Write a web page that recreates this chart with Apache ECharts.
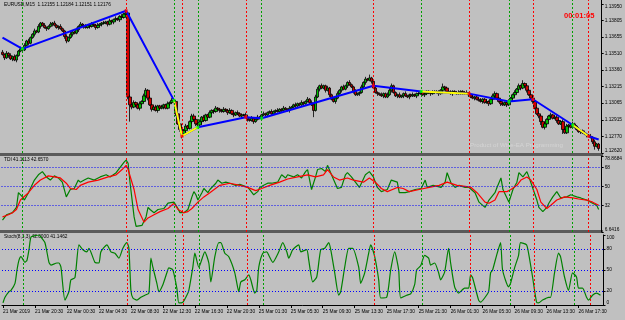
<!DOCTYPE html>
<html>
<head>
<meta charset="utf-8">
<script src="https://cdn.jsdelivr.net/npm/echarts@6/dist/echarts.min.js"></script>
<style>
  html, body { margin: 0; padding: 0; background: #c0c0c0; }
  #chart { width: 625px; height: 320px; }
</style>
</head>
<body>
<div id="chart"></div>
<script>
// EURUSD M15, one candle per slot. Prices are kept as pips above BASE.
const BASE = 1.125;
const firstOpen = 102;

const closePips = [
  100, 97, 101, 99, 96, 98, 95, 99, 103, 105, 104, 108, 112, 110, 115, 118, 121, 120, 125, 128,
  126, 124, 123, 125, 127, 128, 126, 124, 125, 123, 121, 116, 112, 115, 118, 120, 119, 122, 125, 127,
  126, 125, 124, 126, 125, 127, 126, 124, 126, 127, 128, 128, 129, 127, 130, 129, 131, 132, 131, 134,
  133, 136, 137, 62, 55, 53, 57, 55, 52, 56, 58, 63, 68, 61, 55, 51, 53, 50, 54, 52,
  53, 55, 52, 56, 57, 59, 58, 47, 38, 33, 29, 32, 36, 34, 40, 45, 42, 38, 37, 40,
  44, 41, 46, 44, 48, 50, 49, 52, 51, 50, 49, 51, 50, 48, 50, 47, 46, 48, 47, 45,
  46, 46, 44, 42, 41, 43, 40, 42, 44, 43, 46, 47, 46, 48, 49, 47, 49, 50, 49, 51,
  50, 52, 51, 50, 52, 53, 55, 54, 56, 55, 57, 56, 58, 60, 57, 55, 50, 62, 69, 72,
  70, 72, 68, 70, 64, 60, 58, 61, 65, 68, 71, 69, 72, 75, 73, 71, 67, 64, 65, 66,
  71, 75, 78, 77, 79, 76, 70, 66, 65, 64, 63, 65, 62, 64, 68, 72, 66, 63, 64, 62,
  63, 65, 63, 62, 64, 63, 64, 63, 65, 65, 66, 64, 65, 67, 66, 65, 66, 67, 66, 65,
  68, 71, 70, 67, 66, 65, 67, 66, 65, 66, 67, 65, 66, 65, 64, 62, 61, 62, 60, 59,
  58, 60, 57, 58, 56, 60, 63, 65, 61, 58, 56, 55, 57, 55, 58, 61, 64, 66, 69, 72,
  70, 74, 72, 68, 64, 61, 58, 52, 47, 45, 40, 35, 38, 42, 45, 46, 43, 44, 41, 38,
  40, 33, 30, 36, 37, 35, 38, 36, 33, 31, 32, 30, 29, 28, 27, 26, 22, 18, 20, 16
];

// pips above the body top / below the body bottom
const hiWick = [
  2,1,2,1,2,1,2,1,1,2,1,2,1,2,1,1,2,1,2,1,
  1,2,1,1,2,1,2,1,1,2,1,1,2,1,2,1,1,2,1,2,
  1,1,2,1,1,2,1,1,2,1,1,2,1,1,2,1,1,2,1,1,
  2,1,3,1,2,1,2,1,1,2,1,2,2,1,2,1,1,2,1,1,
  2,1,1,2,1,2,1,1,2,1,2,1,2,1,1,2,2,1,1,2,
  1,2,1,1,2,1,1,2,1,1,1,2,1,1,2,1,1,1,2,1,
  1,1,2,1,1,2,1,1,2,1,1,2,1,1,1,2,1,1,2,1,
  1,2,1,1,2,1,1,2,1,1,2,1,1,2,1,2,1,2,2,1,
  2,1,1,2,1,1,2,1,2,1,1,2,1,1,2,1,1,2,1,1,
  2,1,2,1,3,1,1,2,1,1,2,1,1,2,2,2,1,1,1,2,
  1,1,2,1,1,1,2,1,1,2,1,1,2,1,1,1,2,1,1,2,
  1,3,1,1,1,2,1,1,1,2,1,1,1,2,1,1,2,1,1,1,
  2,1,1,2,1,1,2,2,1,1,2,1,1,1,2,1,1,2,1,2,
  1,3,1,2,1,1,2,1,1,2,1,1,2,1,1,2,1,1,2,1,
  1,2,1,2,1,1,2,1,1,2,1,1,2,1,1,2,1,2,1,1
];
const loWick = [
  1,2,1,2,1,2,1,2,1,1,2,1,1,2,1,1,2,1,1,2,
  1,1,2,1,1,2,1,1,2,1,1,2,2,1,1,2,1,1,2,1,
  1,2,1,1,2,1,1,2,1,1,2,1,1,2,1,1,2,1,1,2,
  1,1,1,2,15,2,1,2,1,2,1,1,1,2,1,2,1,1,2,1,
  1,2,1,1,2,1,1,2,1,2,4,1,2,1,1,2,1,2,1,1,
  2,1,1,2,1,1,2,1,1,2,1,1,1,2,1,1,2,1,1,1,
  2,1,1,2,1,1,2,1,1,1,2,1,1,2,1,1,1,2,1,1,
  2,1,1,1,2,1,1,2,1,1,1,2,1,1,2,1,6,1,1,2,
  1,1,2,1,2,1,1,2,1,1,2,1,1,2,1,1,2,1,1,2,
  1,1,2,1,1,2,1,1,2,1,1,2,1,1,1,2,1,1,2,1,
  1,2,1,1,2,1,1,1,2,1,1,1,2,1,1,2,1,1,1,2,
  1,1,2,1,1,1,2,1,1,1,2,1,1,1,2,1,1,2,1,1,
  1,2,1,1,2,1,1,2,1,1,2,1,1,2,1,1,1,2,1,1,
  2,1,1,2,1,1,2,1,1,2,3,1,2,1,1,2,1,1,2,1,
  1,4,1,1,2,1,1,2,1,1,2,1,1,2,1,1,2,3,1,2
];

const timeLabels = ['21 Mar 2019', '21 Mar 20:30', '22 Mar 00:30', '22 Mar 04:30', '22 Mar 08:30',
  '22 Mar 12:30', '22 Mar 16:30', '22 Mar 20:30', '25 Mar 01:30', '25 Mar 05:30', '25 Mar 09:30',
  '25 Mar 13:30', '25 Mar 17:30', '25 Mar 21:30', '26 Mar 01:30', '26 Mar 05:30', '26 Mar 09:30',
  '26 Mar 13:30', '26 Mar 17:30'];
const priceTicks = [1.12620, 1.12770, 1.12915, 1.13065, 1.13215, 1.13360, 1.13510, 1.13655, 1.13805, 1.13950];
const tdiTicks = [6.6416, 32, 50, 68, 78.8684];
const tdiLevels = [68, 50, 32];
const stochTicks = [0, 20, 50, 80, 100];
const stochLevels = [80, 50, 20];

// zigzag vertices [bar, pips]
const zigzag = [[0, 115], [10, 105], [62, 139], [86, 59], [90, 27], [98, 35], [122, 44], [130, 43],
  [186, 72], [210, 67], [234, 65], [254, 58], [266, 60], [286, 37], [294, 27], [299, 24]];
const yellowLegs = [[86, 98], [210, 234], [286, 294]];
const greenMarks = [10, 86, 98, 130, 210, 254, 286];
const redMarks = [62, 90, 122, 186, 234, 266, 294];

// TDI vertices [bar, value]
const tdiPrice = [[0,18],[2,23],[5,25],[7,30],[8,44],[10,40],[11,37],[13,44],[16,56],[18,61],[20,64],[22,59],
  [23,59],[24,56],[26,60],[28,58],[30,54],[32,40],[33,39],[34,47],[36,48],[38,56],[39,54],[41,56],[43,58],
  [46,56],[49,59],[52,61],[54,59],[57,63],[59,68],[61,73],[62,75],[63,72],[64,53],[66,21],[67,12],[68,11],
  [70,13],[72,21],[73,30],[74,28],[76,25],[78,28],[81,29],[83,34],[86,35],[88,29],[89,25],[91,25],[93,28],
  [94,34],[95,40],[96,45],[97,42],[98,37],[100,44],[101,48],[103,44],[104,47],[105,47],[107,53],[108,56],
  [110,53],[112,54],[114,53],[117,51],[119,52],[123,49],[124,47],[126,42],[128,45],[129,49],[131,51],
  [133,53],[135,53],[138,54],[140,61],[142,58],[143,61],[146,59],[148,61],[150,58],[152,64],[153,66],
  [155,47],[157,59],[158,66],[160,67],[162,64],[163,70],[165,61],[168,48],[170,49],[172,61],[173,63],
  [175,59],[177,54],[179,49],[182,61],[184,64],[186,59],[188,49],[190,45],[193,47],[195,56],[198,54],
  [199,44],[202,44],[204,45],[207,47],[210,48],[212,56],[213,49],[216,51],[220,49],[222,54],[223,63],
  [225,53],[227,49],[229,51],[232,49],[234,49],[237,44],[239,35],[242,30],[244,37],[247,44],[248,49],
  [250,58],[251,47],[253,39],[254,35],[256,47],[258,54],[259,63],[261,59],[263,64],[264,59],[266,48],
  [268,37],[269,30],[271,26],[273,30],[274,34],[276,40],[278,45],[280,39],[283,40],[285,42],[288,40],
  [290,39],[293,37],[295,35],[298,32],[299,28]];
const tdiSignal = [[0,21],[3,23],[5,25],[7,28],[9,37],[13,44],[16,51],[19,56],[23,60],[26,59],[29,58],
  [32,53],[34,48],[37,47],[39,51],[43,54],[48,56],[53,59],[57,61],[60,66],[62,70],[63,66],[66,47],[68,28],
  [71,16],[73,20],[76,23],[79,26],[83,29],[86,34],[88,28],[91,25],[93,26],[95,29],[98,35],[101,40],
  [104,44],[109,51],[114,53],[119,51],[123,49],[127,46],[130,48],[134,51],[139,54],[143,57],[148,59],
  [153,61],[157,59],[161,61],[163,66],[166,59],[169,56],[173,58],[176,56],[181,54],[184,58],[187,54],
  [190,48],[193,45],[198,49],[201,48],[204,45],[209,47],[214,49],[219,51],[223,54],[228,51],[232,50],
  [235,49],[238,44],[242,35],[244,34],[247,37],[249,45],[253,45],[255,47],[258,51],[260,56],[263,59],
  [265,56],[268,47],[270,35],[273,29],[275,32],[278,37],[282,40],[286,39],[289,38],[293,37],[296,35],
  [299,32]];

// Stochastic main line [bar, value]
const stochMain = [[0,3],[1,11],[3,19],[4,21],[6,31],[7,50],[8,64],[9,69],[11,61],[12,64],[13,79],[14,97],
  [16,99],[18,100],[19,97],[21,89],[23,61],[24,57],[27,60],[28,60],[29,54],[31,7],[33,19],[34,36],[36,39],
  [38,86],[40,79],[42,76],[43,81],[46,61],[48,60],[49,76],[52,86],[54,76],[56,74],[58,67],[60,81],[62,89],
  [63,81],[64,21],[65,10],[67,7],[69,11],[71,14],[73,17],[74,67],[75,54],[77,31],[78,19],[80,29],[82,46],
  [83,53],[85,50],[87,24],[88,3],[90,4],[92,14],[93,21],[95,54],[96,74],[98,54],[101,76],[103,60],[104,33],
  [106,69],[108,89],[109,89],[111,74],[113,69],[116,46],[118,19],[119,33],[121,36],[123,43],[124,36],
  [126,17],[127,21],[128,54],[130,74],[132,76],[133,71],[135,61],[138,76],[140,89],[142,76],[143,67],
  [145,79],[148,86],[149,76],[152,79],[153,64],[155,33],[157,40],[159,79],[161,81],[163,89],[164,79],
  [166,46],[168,14],[169,19],[171,54],[173,81],[175,81],[178,54],[179,31],[181,46],[183,74],[184,86],
  [186,69],[188,36],[189,10],[192,11],[194,50],[196,76],[198,50],[199,10],[202,14],[204,16],[206,29],
  [207,50],[209,56],[211,71],[213,67],[214,57],[216,60],[218,46],[219,36],[221,47],[223,81],[224,60],
  [226,26],[228,17],[231,24],[233,24],[234,43],[235,39],[238,7],[239,4],[241,10],[243,19],[244,46],
  [245,50],[247,71],[249,89],[250,50],[253,26],[254,31],[256,53],[258,71],[259,89],[262,86],[263,74],
  [265,40],[267,4],[268,3],[270,7],[273,11],[274,11],[276,46],[278,74],[279,69],[281,40],[283,21],
  [285,46],[287,40],[288,24],[290,24],[292,11],[293,7],[295,14],[297,17],[299,14]];

const toPrice = p => +(BASE + p / 10000).toFixed(5);
const slots = Array.from({ length: closePips.length + 1 }, (_, i) => i);
const candles = closePips.map((c, i) => {
  const o = i === 0 ? firstOpen : closePips[i - 1];
  return [o, c, Math.min(o, c) - loWick[i], Math.max(o, c) + hiWick[i]].map(toPrice);
});
const zigData = zigzag.map(([i, p]) => [i, toPrice(p)]);

const FONT = 'Liberation Sans';
const GREEN_V = '#00a000';
const RED_V = '#ff0000';

function verticals() {
  return {
    silent: true, symbol: 'none', label: { show: false },
    lineStyle: { type: [2, 2], width: 1 },
    data: greenMarks.map(i => ({ xAxis: i, lineStyle: { color: GREEN_V } }))
      .concat(redMarks.map(i => ({ xAxis: i, lineStyle: { color: RED_V } })))
  };
}
function levels(vals) {
  return {
    silent: true, symbol: 'none', label: { show: false },
    lineStyle: { type: [1, 2], width: 1, color: '#0000ff' },
    data: vals.map(v => ({ yAxis: v }))
  };
}

const grids = [
  { left: 1.5, right: 21.5, top: 0, height: 153 },
  { left: 1.5, right: 21.5, top: 156, height: 76 },
  { left: 1.5, right: 21.5, top: 235, height: 70 }
];

const xAxes = [0, 1, 2].map(g => ({
  type: 'category', gridIndex: g, data: slots, boundaryGap: true,
  axisLine: { show: g === 2, lineStyle: { color: '#000' } },
  axisTick: { show: g === 2, interval: 15, alignWithLabel: true, length: 3, lineStyle: { color: '#000' } },
  axisLabel: {
    show: g === 2, interval: 15, align: 'left', margin: 4,
    fontFamily: FONT, fontSize: 4.8, color: '#000',
    formatter: (v, idx) => timeLabels[idx / 16] || ''
  },
  splitLine: { show: false }
}));

function yAxis(g, min, max, ticks, fmt) {
  return {
    type: 'value', gridIndex: g, position: 'right', min: min, max: max, scale: true,
    axisLine: { show: true, lineStyle: { color: '#000' } },
    axisTick: { show: true, length: 2, customValues: ticks, lineStyle: { color: '#000' } },
    axisLabel: {
      customValues: ticks, formatter: fmt, margin: 3,
      fontFamily: FONT, fontSize: 4.8, color: '#000',
      verticalAlignMinLabel: 'bottom', verticalAlignMaxLabel: 'top'
    },
    splitLine: { show: false }
  };
}

const option = {
  animation: false,
  backgroundColor: '#c0c0c0',
  grid: grids,
  xAxis: xAxes,
  yAxis: [
    yAxis(0, 1.12620, 1.13986, priceTicks, v => v.toFixed(5)),
    yAxis(1, 6.6416, 78.8684, tdiTicks, v => String(v)),
    yAxis(2, 0, 100, stochTicks, v => String(v))
  ],
  series: [
    {
      type: 'candlestick', xAxisIndex: 0, yAxisIndex: 0, data: candles,
      barWidth: 3,
      itemStyle: { color: '#00c000', color0: '#d00000', borderColor: '#000', borderColor0: '#000', borderWidth: 0.8 },
      markLine: verticals()
    },
    {
      type: 'line', xAxisIndex: 0, yAxisIndex: 0, data: zigData, z: 3,
      showSymbol: false, lineStyle: { color: '#0000ff', width: 2 }, silent: true
    },
    ...yellowLegs.map(([a, b]) => ({
      type: 'line', xAxisIndex: 0, yAxisIndex: 0, z: 4, silent: true, showSymbol: false,
      data: zigData.filter(d => d[0] >= a && d[0] <= b),
      lineStyle: { color: '#ffff00', width: 2 }
    })),
    {
      type: 'scatter', xAxisIndex: 0, yAxisIndex: 0, z: 5, silent: true, symbol: 'rect', symbolSize: 3,
      data: zigData.filter(d => greenMarks.includes(d[0])), itemStyle: { color: '#00ff00' }
    },
    {
      type: 'scatter', xAxisIndex: 0, yAxisIndex: 0, z: 5, silent: true, symbol: 'rect', symbolSize: 3,
      data: zigData.filter(d => redMarks.includes(d[0])), itemStyle: { color: '#ff0000' }
    },
    {
      type: 'line', xAxisIndex: 1, yAxisIndex: 1, data: tdiPrice, showSymbol: false, silent: true,
      lineStyle: { color: '#008000', width: 1.2 }, z: 3,
      markLine: verticals()
    },
    {
      type: 'line', xAxisIndex: 1, yAxisIndex: 1, data: tdiSignal, showSymbol: false, silent: true,
      lineStyle: { color: '#ff0000', width: 1.2 }, z: 4,
      markLine: levels(tdiLevels)
    },
    {
      type: 'line', xAxisIndex: 2, yAxisIndex: 2, data: stochMain, showSymbol: false, silent: true,
      smooth: 0.2, lineStyle: { color: '#008000', width: 1.2 }, z: 3,
      markLine: verticals()
    },
    {
      type: 'line', xAxisIndex: 2, yAxisIndex: 2, data: [], showSymbol: false, silent: true,
      markLine: levels(stochLevels)
    }
  ],
  graphic: [
    { type: 'rect', left: 0, top: 153, shape: { width: 603, height: 3 }, style: { fill: '#5a5a5a' }, silent: true },
    { type: 'rect', left: 0, top: 230, shape: { width: 603, height: 3 }, style: { fill: '#5a5a5a' }, silent: true },
    { type: 'text', left: 4, top: 2, silent: true,
      style: { text: 'EURUSD,M15  1.12155 1.12184 1.12151 1.12176', fontFamily: FONT, fontSize: 4.8, fill: '#000' } },
    { type: 'text', left: 4, top: 157, silent: true,
      style: { text: 'TDI 41.1113 42.6570', fontFamily: FONT, fontSize: 4.8, fill: '#000' } },
    { type: 'text', left: 4, top: 234, silent: true,
      style: { text: 'Stoch(8,3,3) 42.0000 41.1462', fontFamily: FONT, fontSize: 4.8, fill: '#000' } },
    { type: 'text', left: 564, top: 12, silent: true,
      style: { text: '00:01:05', fontFamily: FONT, fontSize: 7.6, fontWeight: 'bold', fill: '#ff0000' } },
    { type: 'text', left: 470, top: 142, silent: true,
      style: { text: 'Product of Wise-EA Programming', fontFamily: FONT, fontSize: 6.2, fill: '#d4d4d4' } }
  ]
};

const chart = echarts.init(document.getElementById('chart'));
chart.setOption(option);
</script>
</body>
</html>
